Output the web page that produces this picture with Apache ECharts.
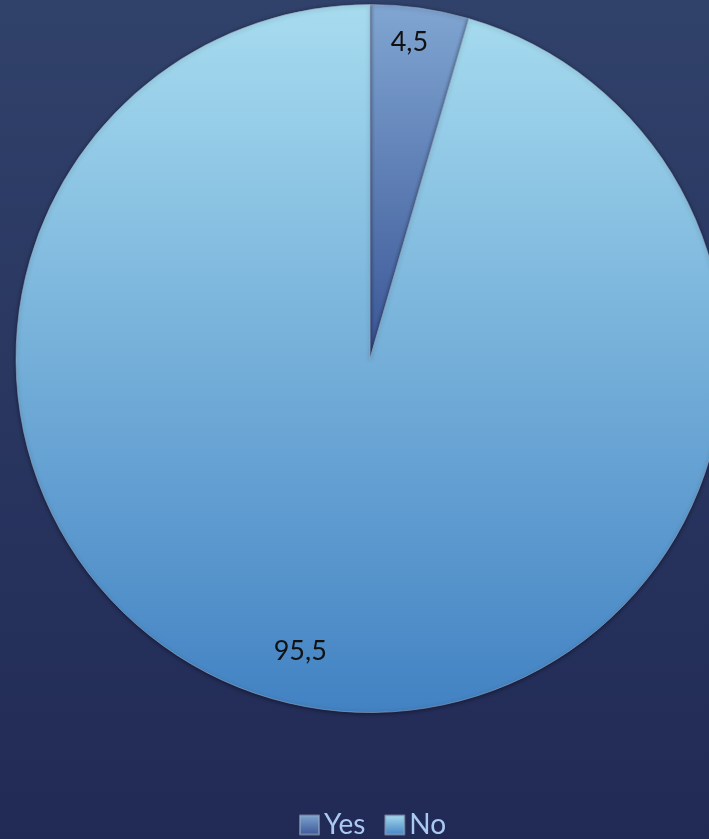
<!DOCTYPE html>
<html>
<head>
<meta charset="utf-8">
<style>
  html, body { margin: 0; padding: 0; width: 709px; height: 839px; overflow: hidden; }
  #chart { width: 709px; height: 839px; }
</style>
<script src="https://cdn.jsdelivr.net/npm/echarts@6/dist/echarts.min.js"></script>
</head>
<body>
<div id="chart"></div>
<script>
// Answer categories and their shares (percent)
const categories = ['Yes', 'No'];
const shares = [4.5, 95.5];

// Per-slice vertical gradients (top colour, bottom colour)
const sliceGradients = [
  ['#80a6d2', '#3a5596'],
  ['#a7dcef', '#4282c3']
];

const CX = 370, CY = 358.5, R = 354;
const labelRadius = [0.9, 0.85];
const labelAngleShift = [-1, 5.3]; // degrees, nudges label along the arc

function grad(c) {
  return new echarts.graphic.LinearGradient(0, 0, 0, 1, [
    { offset: 0, color: c[0] },
    { offset: 1, color: c[1] }
  ]);
}

const total = shares.reduce((a, b) => a + b, 0);
// mid-angle of each slice, measured clockwise from 12 o'clock
const midAngles = [];
let acc = 0;
shares.forEach(v => {
  const a = v / total * 360;
  midAngles.push(acc + a / 2);
  acc += a;
});

const chart = echarts.init(document.getElementById('chart'), null, { renderer: 'canvas' });

chart.setOption({
  backgroundColor: new echarts.graphic.LinearGradient(0, 0, 0, 1, [
    { offset: 0, color: '#30416a' },
    { offset: 1, color: '#212a55' }
  ]),
  animation: false,
  legend: {
    data: categories,
    left: 294,
    top: 806,
    icon: 'rect',
    itemWidth: 19,
    itemHeight: 19,
    itemGap: 19,
    textStyle: { color: '#a9c9ef', fontSize: 28, fontFamily: 'Lato' }
  },
  series: [{
    type: 'pie',
    center: [CX, CY],
    radius: [0, R],
    startAngle: 90,
    clockwise: true,
    silent: true,
    data: categories.map((name, i) => ({
      name: name,
      value: shares[i],
      itemStyle: { color: grad(sliceGradients[i]) }
    })),
    itemStyle: {
      borderColor: 'rgba(150,170,195,0.6)',
      borderWidth: 1,
      shadowColor: 'rgba(0,0,20,0.5)',
      shadowBlur: 4,
      shadowOffsetX: 0,
      shadowOffsetY: 1
    },
    label: {
      show: true,
      position: 'inside',
      formatter: p => String(p.value).replace('.', ','),
      color: '#111111',
      fontSize: 27,
      fontFamily: 'Lato'
    },
    labelLine: { show: false },
    labelLayout: function (params) {
      const i = params.dataIndex;
      const ang = (midAngles[i] + labelAngleShift[i]) * Math.PI / 180;
      const r = R * labelRadius[i];
      return {
        x: CX + r * Math.sin(ang),
        y: CY - r * Math.cos(ang),
        align: 'center',
        verticalAlign: 'middle'
      };
    }
  }]
});
</script>
</body>
</html>
